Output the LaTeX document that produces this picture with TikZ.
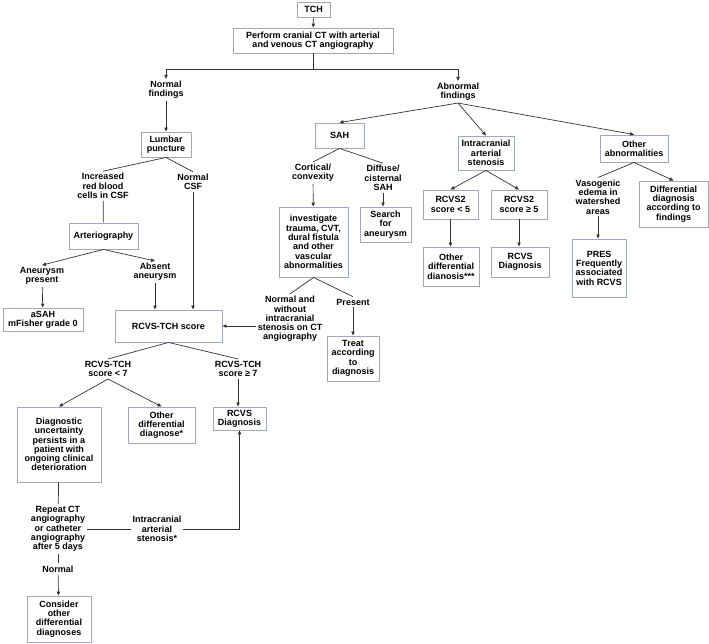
\documentclass[tikz,border=0pt]{standalone}
\usepackage{fontspec}
\setmainfont{Liberation Sans}
\usetikzlibrary{arrows.meta,calc}
\definecolor{bordegris}{rgb}{0.62,0.66,0.76}
\definecolor{trazo}{rgb}{0.2,0.2,0.2}
\tikzset{
  bloque/.style={
    draw=bordegris,
    line width=0.9pt,
    fill=white,
    align=center,
    inner sep=2pt,
    font=\fontsize{9}{9.3}\selectfont\bfseries
  },
  nota/.style={
    align=center,
    inner sep=2pt,
    font=\fontsize{9}{9.3}\selectfont\bfseries
  },
  arrow/.style={
    -{Triangle[length=4pt,width=3.4pt]},
    line width=0.7pt,
    trazo
  },
  linea/.style={
    line width=0.7pt,
    trazo
  }
}

\begin{document}
\begin{tikzpicture}[x=1pt,y=-1pt]
\useasboundingbox (0,0) rectangle (709,644);
% top
\node[bloque,minimum width=33,minimum height=15] (TCH) at (313.5,9.5) {TCH};
\node[bloque,minimum width=160,minimum height=25] (CT) at (313,40.5) {Perform cranial CT with arterial\\and venous CT angiography};
\node[nota] (NF) at (166,90) {Normal\\findings};
\node[nota] (AF) at (458,92) {Abnormal\\findings};
\coordinate (J) at (313,69);
% normal findings branch
\node[bloque,minimum width=50,minimum height=25] (LP) at (166,144.5) {Lumbar\\puncture};
\node[nota] (INC) at (103,186) {Increased\\red blood\\cells in CSF};
\node[nota] (NCSF) at (193,182) {Normal\\CSF};
\node[bloque,minimum width=69,minimum height=26] (ART) at (103.5,236) {Arteriography};
\node[nota] (ANP) at (42,276) {Aneurysm\\present};
\node[nota] (ABS) at (155,272) {Absent\\aneurysm};
\node[bloque,minimum width=80,minimum height=23] (ASAH) at (43,319.5) {aSAH\\mFisher grade 0};
\node[bloque,minimum width=107,minimum height=32] (SC) at (168.5,326) {RCVS-TCH score};
\node[nota] (LT) at (108,369) {RCVS-TCH\\score < 7};
\node[nota] (GE) at (238,369) {RCVS-TCH\\score ≥ 7};
\node[bloque,minimum width=84,minimum height=75] (DU) at (59,444.5) {Diagnostic\\uncertainty\\persists in a\\patient with\\ongoing clinical\\deterioration};
\node[bloque,minimum width=67,minimum height=36] (OD) at (161.5,425) {Other\\differential\\diagnose*};
\node[bloque,minimum width=53,minimum height=23] (RA) at (239.5,418.5) {RCVS\\Diagnosis};
\node[nota] (REP) at (58,529) {Repeat CT\\angiography\\or catheter\\angiography\\after 5 days};
\node[nota] (IAS) at (157,529) {Intracranial\\arterial\\stenosis*};
\node[nota] (NRM) at (58,569) {Normal};
\node[bloque,minimum width=64,minimum height=46] (CO) at (59,619) {Consider\\other\\differential\\diagnoses};
% SAH branch
\node[bloque,minimum width=49,minimum height=25] (SAH) at (339.5,135.5) {SAH};
\node[nota] (CORT) at (313,173) {Cortical/\\convexity};
\node[nota] (DIFF) at (383,178) {Diffuse/\\cisternal\\SAH};
\node[bloque,minimum width=69,minimum height=70] (INV) at (313.5,242) {investigate\\trauma, CVT,\\dural fistula\\and other\\vascular\\abnormalities};
\node[bloque,minimum width=51,minimum height=35] (SRCH) at (385.5,224.5) {Search\\for\\aneurysm};
\node[nota] (NWO) at (290,319) {Normal and\\without\\intracranial\\stenosis on CT\\angiography};
\node[nota] (PRS) at (353,302) {Present};
\node[bloque,minimum width=52,minimum height=45] (TR) at (353,358.5) {Treat\\according\\to\\diagnosis};
% stenosis branch
\node[bloque,minimum width=56,minimum height=34] (IA) at (486,153) {Intracranial\\arterial\\stenosis};
\node[bloque,minimum width=55,minimum height=29] (R2A) at (450.5,204.5) {RCVS2\\score < 5};
\node[bloque,minimum width=56,minimum height=29] (R2B) at (519,204.5) {RCVS2\\score ≥ 5};
\node[bloque,minimum width=56,minimum height=39] (OD2) at (451,266.5) {Other\\differential\\dianosis***};
\node[bloque,minimum width=58,minimum height=30] (RB) at (520,262) {RCVS\\Diagnosis};
% other abnormalities branch
\node[bloque,minimum width=68,minimum height=27] (OTH) at (634,148.5) {Other\\abnormalities};
\node[nota] (VAS) at (598,197) {Vasogenic\\edema in\\watershed\\areas};
\node[bloque,minimum width=69,minimum height=46] (DD) at (673.5,204) {Differential\\diagnosis\\according to\\findings};
\node[bloque,minimum width=54,minimum height=58] (PRES) at (599,268) {PRES\\Frequently\\associated\\with RCVS};
% connectors
\draw[arrow] (TCH) -- (CT);
\draw[linea] (CT) -- (J);
\draw[arrow] (J) -| (NF);
\draw[arrow] (J) -| (AF);
\draw[arrow] (NF) -- (LP);
\draw[linea] (LP.south) -- (INC.north);
\draw[linea] (LP.south) -- (NCSF.north);
\draw[linea] (INC) -- (ART);
\draw[arrow] (NCSF) -- (NCSF |- SC.north);
\draw[arrow] (ART.south) -- (ANP.north);
\draw[arrow] (ART.south) -- (ABS.north);
\draw[arrow] (ANP) -- (ASAH);
\draw[arrow] (ABS) -- (ABS |- SC.north);
\draw[linea] (SC.south) -- (LT.north);
\draw[linea] (SC.south) -- (GE.north);
\draw[arrow] (LT.south) -- (DU.north);
\draw[arrow] (LT.south) -- (OD.north);
\draw[arrow] (GE) -- (GE |- RA.north);
\draw[linea] (DU) -- (REP);
\draw[linea] (REP) -- (IAS);
\draw[arrow] (IAS) -| (RA);
\draw[linea] (REP) -- (NRM);
\draw[arrow] (NRM) -- (CO);
\draw[arrow] (AF.south) -- (SAH.north);
\draw[arrow] (AF.south) -- (IA.north);
\draw[arrow] (AF.south) -- (OTH.north);
\draw[linea] (SAH.south) -- (CORT.north);
\draw[linea] (SAH.south) -- (DIFF.north);
\draw[arrow] (CORT) -- (INV);
\draw[arrow] (DIFF) -- (DIFF |- SRCH.north);
\draw[linea] (INV.south) -- (NWO.north);
\draw[linea] (INV.south) -- (PRS.north);
\draw[arrow] (NWO.west |- SC.east) -- (SC.east);
\draw[arrow] (PRS) -- (TR);
\draw[arrow] (IA.south) -- (R2A.north);
\draw[arrow] (IA.south) -- (R2B.north);
\draw[arrow] (R2A) -- (R2A |- OD2.north);
\draw[arrow] (R2B) -- (R2B |- RB.north);
\draw[linea] (OTH.south) -- (VAS.north);
\draw[arrow] (OTH.south) -- (DD.north);
\draw[arrow] (VAS) -- (VAS |- PRES.north);
\end{tikzpicture}
\end{document}
